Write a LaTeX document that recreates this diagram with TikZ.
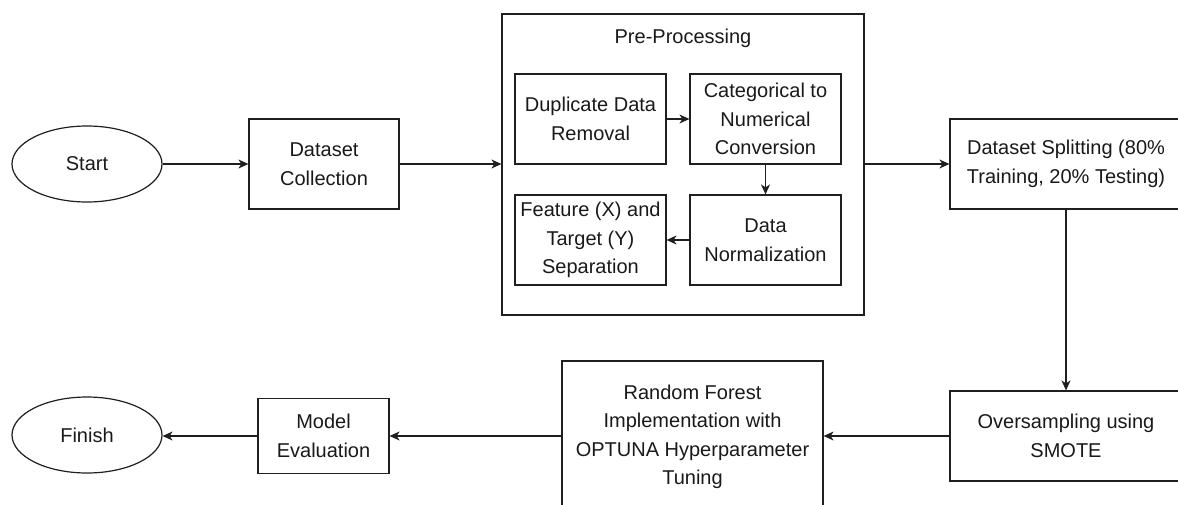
\documentclass[tikz,border=0pt]{standalone}
\usepackage{fontspec}
\setmainfont{Liberation Sans}
\usepackage{tikz}
\usetikzlibrary{arrows.meta, positioning, shapes.geometric}
\usepackage{xcolor}
\definecolor{linegray}{rgb}{0.12, 0.12, 0.12}
\definecolor{textgray}{rgb}{0.1, 0.1, 0.1}

\begin{document}
\begin{tikzpicture}[
		x=1pt, y=-1pt,
		block/.style={draw=linegray, line width=1.2pt, rectangle, inner sep=0pt, align=center, text=textgray, font=\fontsize{20}{28.5}\selectfont},
		terminal/.style={draw=linegray, line width=1.2pt, ellipse, inner sep=0pt, minimum width=150pt, minimum height=76pt, text=textgray, font=\fontsize{20}{28.5}\selectfont},
		title/.style={text=textgray, font=\fontsize{20}{28.5}\selectfont},
		flow/.style={draw=linegray, line width=1.2pt, -{Stealth[length=10pt, width=9pt, inset=3pt]}}
	]
	\useasboundingbox (0,0) rectangle (1178,504);

	% Top row
	\node[terminal] (start) at (87,164) {Start};
	\node[block, minimum width=150pt, minimum height=90pt] (collect) at (324,164) {Dataset\\Collection};

	% Pre-Processing group
	\node[block, minimum width=362pt, minimum height=301pt] (pre) at (683,164.5) {};
	\node[title] (pretitle) at (683,38) {Pre-Processing};
	\node[block, minimum width=151pt, minimum height=90pt] (dup) at (590.5,119) {Duplicate Data\\Removal};
	\node[block, minimum width=151pt, minimum height=90pt] (cat) at (765.5,119) {Categorical to\\Numerical\\Conversion};
	\node[block, minimum width=151pt, minimum height=90pt] (norm) at (765.5,240) {Data\\Normalization};
	\node[block, minimum width=151pt, minimum height=90pt] (feat) at (590.5,240) {Feature (X) and\\Target (Y)\\Separation};

	\node[block, minimum width=232pt, minimum height=90pt] (split) at (1066,164) {Dataset Splitting (80\%\\Training, 20\% Testing)};

	% Bottom row
	\node[block, minimum width=232pt, minimum height=90pt] (over) at (1066,436) {Oversampling using\\SMOTE};
	\node[block, minimum width=261pt, minimum height=152pt] (rf) at (692.5,437) {Random Forest\\Implementation with\\OPTUNA Hyperparameter\\Tuning};
	\node[block, minimum width=131pt, minimum height=75pt] (eval) at (323.5,436) {Model\\Evaluation};
	\node[terminal] (finish) at (87,435) {Finish};

	% Connectors
	\draw[flow] (start) -- (collect);
	\draw[flow] (collect) -- (collect -| pre.west);
	\draw[flow] (dup) -- (cat);
	\draw[flow] (cat) -- (norm);
	\draw[flow] (norm) -- (feat);
	\draw[flow] (pre.east |- split) -- (split);
	\draw[flow] (split) -- (over);
	\draw[flow] (over) -- (over -| rf.east);
	\draw[flow] (rf.west |- eval) -- (eval);
	\draw[flow] (eval) -- (eval -| finish.east);
\end{tikzpicture}
\end{document}
